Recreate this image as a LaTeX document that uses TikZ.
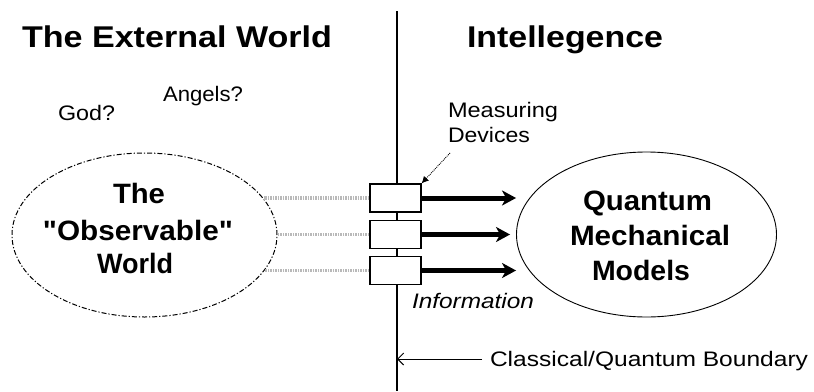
\documentclass[tikz,border=0pt]{standalone}
\usepackage{fontspec}
\setmainfont{Liberation Sans}[Ligatures=TeXOff]
\usetikzlibrary{shapes.geometric,arrows.meta}
\newcommand{\fw}[2]{\resizebox{#1}{\height}{#2}}
\tikzset{
  txt/.style={inner sep=0pt, outer sep=0pt},
  head/.style={txt, font=\fontsize{30}{36}\selectfont\bfseries},
  bigb/.style={txt, font=\fontsize{28}{34}\selectfont\bfseries},
  reg/.style={txt, font=\fontsize{21}{25}\selectfont},
  devbox/.style={draw, line width=1.2pt, minimum width=51pt, minimum height=28pt, inner sep=0pt, fill=white},
  noise/.style={gray!55, line width=3.5pt, dash pattern=on 1.5pt off 1pt},
  info/.style={line width=5pt, -{Stealth[length=14pt,width=15pt,inset=4pt]}},
  bound/.style={line width=1.5pt}
}
\begin{document}
\begin{tikzpicture}[x=1pt,y=-1pt]
\useasboundingbox[fill=white] (0,0) rectangle (814,391);
% headings
\node[head, anchor=base west] (h1) at (22,47) {\fw{310pt}{The External World}};
\node[head, anchor=base west] (h2) at (467,47) {\fw{196pt}{Intellegence}};
% god / angels
\node[reg, anchor=base west] (god) at (58,120) {\fw{57pt}{God?}};
\node[reg, anchor=base west] (ang) at (163,101) {\fw{80pt}{Angels?}};
% measuring devices label
\node[reg, anchor=base west] (meas) at (448,117) {\fw{110pt}{Measuring}};
\node[reg, anchor=base west] (dev) at (448,142) {\fw{82pt}{Devices}};
% ellipses
\node[ellipse, draw, dash pattern=on 5pt off 2pt on 1.2pt off 2pt, line width=1pt,
      minimum width=265pt, minimum height=164pt, inner sep=0pt] (obs) at (144.5,235) {};
\node[ellipse, draw, line width=0.9pt,
      minimum width=260pt, minimum height=165pt, inner sep=0pt] (qm) at (646.5,234.5) {};
\node[bigb, anchor=base] (t1) at (139,203) {\fw{52pt}{The}};
\node[bigb, anchor=base] (t2) at (138,240) {\fw{190pt}{"Observable"}};
\node[bigb, anchor=base] (t3) at (135,273) {\fw{76pt}{World}};
\node[bigb, anchor=base] (q1) at (647.5,210) {\fw{129pt}{Quantum}};
\node[bigb, anchor=base] (q2) at (650,245) {\fw{160pt}{Mechanical}};
\node[bigb, anchor=base] (q3) at (641,280) {\fw{98pt}{Models}};
% boxes
\node[devbox] (b1) at (395.5,198) {};
\node[devbox] (b2) at (395.5,234.5) {};
\node[devbox] (b3) at (395.5,270.5) {};
% boundary line
\coordinate (vtop) at (397,11);
\coordinate (vbot) at (397,391);
\draw[bound] (vtop) -- (vtop |- b1.north);
\draw[bound] (vtop |- b1.south) -- (vtop |- b2.north);
\draw[bound] (vtop |- b2.south) -- (vtop |- b3.north);
\draw[bound] (vtop |- b3.south) -- (vbot);
% noise lines
\draw[noise] (b1.west) -- (b1.west -| obs.17);
\draw[noise] (b2.west) -- (b2.west -| obs.east);
\draw[noise] (b3.west) -- (b3.west -| obs.-16);
% information arrows
\draw[info] (b1.east) -- (b1.east -| qm.west);
\draw[info] (b2.east) -- ([xshift=-6pt]b2.east -| qm.west);
\draw[info] (b3.east) -- (b3.east -| qm.west);
% measuring pointer
\coordinate (mp) at (450,153);
\draw[densely dotted, line width=0.9pt, -{Latex[length=7pt,width=7pt]}] (mp) -- (b1.north east);
% information label
\node[reg, anchor=base west, font=\fontsize{21}{25}\selectfont\itshape] (inf) at (412,308) {\fw{122pt}{Information}};
% classical/quantum boundary
\coordinate (cq) at (482,359);
\draw[line width=1pt, -{Straight Barb[length=6pt,width=12pt]}] (cq) -- (cq -| vbot);
\node[reg, anchor=base west] (cql) at (490,366) {\fw{318pt}{Classical/Quantum Boundary}};
\end{tikzpicture}
\end{document}
